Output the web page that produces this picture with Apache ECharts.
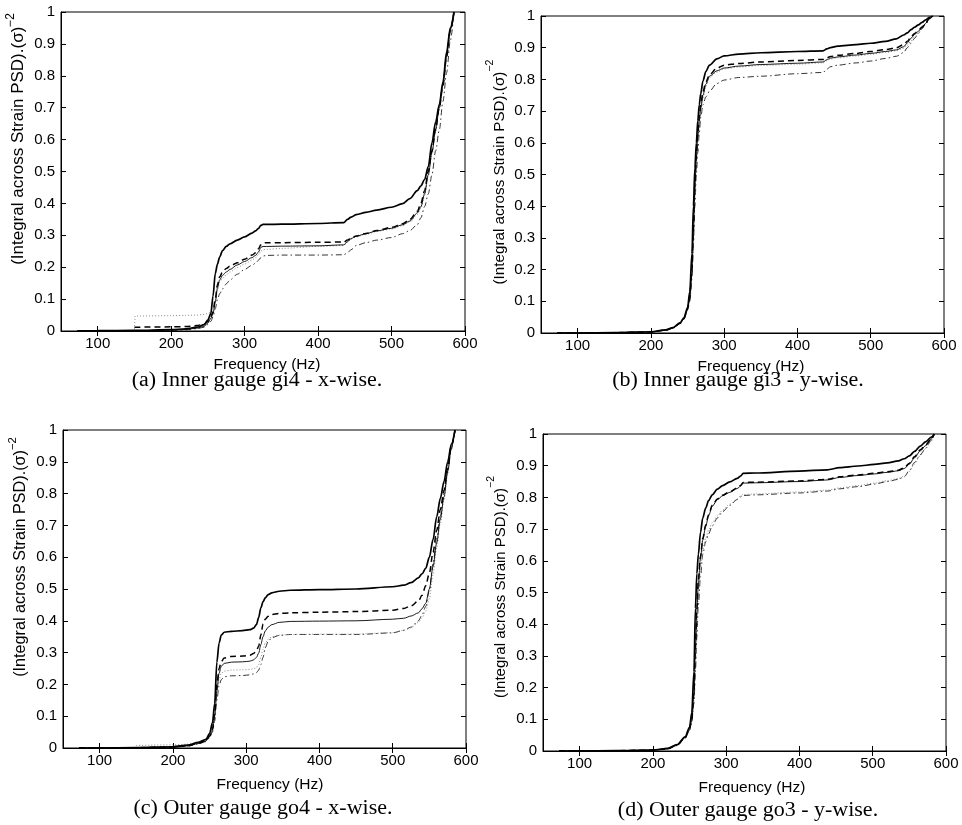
<!DOCTYPE html>
<html>
<head>
<meta charset="utf-8">
<script src="https://cdn.jsdelivr.net/npm/echarts@6/dist/echarts.min.js"></script>
<style>
  html, body { margin: 0; padding: 0; background: #fff; }
  #chart { width: 962px; height: 825px; }
</style>
</head>
<body>
<div id="chart"></div>
<script>
// Normalised cumulative strain PSD, four gauges, five curves each.
const xTicks = [100, 200, 300, 400, 500, 600];

// (a) Inner gauge gi4 - x-wise
const freqA = [72, 100, 150, 151, 200, 220, 235, 245, 250, 254, 257, 260, 263, 266, 270, 275, 280, 290, 300, 310, 315, 319, 322, 325, 330, 350, 400, 435, 440, 445, 452, 465, 480, 500, 515, 525, 535, 540, 545, 550, 555, 560, 565, 570, 575, 580, 585];
const a1 = [0, 0.001, 0.002, 0.002, 0.004, 0.007, 0.012, 0.02, 0.035, 0.055, 0.11, 0.18, 0.21, 0.232, 0.252, 0.265, 0.273, 0.285, 0.295, 0.307, 0.314, 0.322, 0.331, 0.334, 0.334, 0.335, 0.337, 0.34, 0.35, 0.357, 0.365, 0.372, 0.379, 0.388, 0.399, 0.415, 0.44, 0.455, 0.475, 0.515, 0.59, 0.655, 0.71, 0.78, 0.875, 0.95, 1.0];
const a2 = [null, null, 0.012, 0.012, 0.013, 0.014, 0.017, 0.022, 0.03, 0.045, 0.06, 0.1, 0.145, 0.17, 0.185, 0.196, 0.203, 0.214, 0.225, 0.238, 0.245, 0.258, 0.27, 0.276, 0.277, 0.277, 0.278, 0.279, 0.285, 0.292, 0.298, 0.306, 0.315, 0.325, 0.336, 0.35, 0.375, 0.4, 0.44, 0.5, 0.565, 0.635, 0.7, 0.77, 0.86, 0.94, 1.0];
const a3 = [0, 0.0005, 0.001, 0.001, 0.003, 0.005, 0.009, 0.015, 0.025, 0.04, 0.055, 0.09, 0.135, 0.16, 0.175, 0.185, 0.193, 0.207, 0.218, 0.23, 0.237, 0.248, 0.262, 0.265, 0.265, 0.266, 0.267, 0.27, 0.28, 0.29, 0.297, 0.305, 0.314, 0.322, 0.333, 0.345, 0.37, 0.39, 0.43, 0.49, 0.56, 0.63, 0.7, 0.775, 0.865, 0.945, 1.0];
const a4 = [null, null, 0.006, 0.047, 0.048, 0.049, 0.05, 0.052, 0.055, 0.06, 0.07, 0.095, 0.13, 0.152, 0.166, 0.176, 0.185, 0.199, 0.21, 0.222, 0.23, 0.24, 0.25, 0.255, 0.256, 0.259, 0.265, 0.268, 0.278, 0.288, 0.295, 0.303, 0.312, 0.32, 0.33, 0.342, 0.365, 0.385, 0.425, 0.485, 0.555, 0.625, 0.695, 0.77, 0.86, 0.94, 1.0];
const a5 = [0, 0.0005, 0.001, 0.001, 0.002, 0.004, 0.007, 0.012, 0.02, 0.03, 0.045, 0.07, 0.098, 0.117, 0.132, 0.148, 0.16, 0.178, 0.193, 0.206, 0.213, 0.222, 0.23, 0.235, 0.237, 0.238, 0.238, 0.239, 0.245, 0.255, 0.268, 0.277, 0.285, 0.293, 0.305, 0.315, 0.333, 0.355, 0.39, 0.43, 0.49, 0.565, 0.63, 0.72, 0.81, 0.91, 1.0];

// (b) Inner gauge gi3 - y-wise
const freqB = [72, 100, 150, 200, 220, 230, 240, 245, 250, 253, 256, 258, 260, 262, 264, 266, 268, 271, 275, 280, 290, 300, 320, 350, 400, 435, 440, 445, 455, 480, 500, 520, 535, 545, 550, 555, 560, 565, 570, 575, 580, 585];
const b1 = [0, 0, 0.001, 0.004, 0.01, 0.017, 0.033, 0.048, 0.08, 0.13, 0.25, 0.4, 0.52, 0.6, 0.67, 0.72, 0.755, 0.795, 0.825, 0.845, 0.865, 0.874, 0.88, 0.884, 0.888, 0.89, 0.896, 0.9, 0.905, 0.91, 0.914, 0.92, 0.928, 0.94, 0.947, 0.957, 0.965, 0.972, 0.98, 0.988, 0.996, 1.0];
const b2 = [0, 0, 0.001, 0.003, 0.009, 0.016, 0.031, 0.045, 0.075, 0.11, 0.2, 0.33, 0.47, 0.56, 0.63, 0.68, 0.72, 0.76, 0.792, 0.815, 0.835, 0.845, 0.85, 0.855, 0.86, 0.863, 0.868, 0.872, 0.876, 0.882, 0.888, 0.894, 0.9, 0.91, 0.92, 0.935, 0.945, 0.955, 0.965, 0.978, 0.993, 1.0];
const b3 = [0, 0, 0.001, 0.003, 0.009, 0.016, 0.031, 0.045, 0.075, 0.11, 0.19, 0.32, 0.46, 0.55, 0.62, 0.67, 0.71, 0.75, 0.785, 0.81, 0.827, 0.836, 0.842, 0.847, 0.851, 0.855, 0.862, 0.867, 0.871, 0.877, 0.882, 0.888, 0.893, 0.903, 0.915, 0.93, 0.942, 0.952, 0.963, 0.977, 0.992, 1.0];
const b4 = [null, null, 0.001, 0.003, 0.008, 0.015, 0.03, 0.044, 0.073, 0.105, 0.18, 0.3, 0.44, 0.53, 0.6, 0.65, 0.695, 0.74, 0.778, 0.805, 0.823, 0.833, 0.839, 0.844, 0.848, 0.852, 0.859, 0.864, 0.868, 0.874, 0.879, 0.885, 0.89, 0.898, 0.908, 0.922, 0.935, 0.947, 0.96, 0.975, 0.99, 1.0];
const b5 = [0, 0, 0.001, 0.003, 0.008, 0.015, 0.03, 0.044, 0.072, 0.1, 0.17, 0.28, 0.4, 0.5, 0.57, 0.63, 0.68, 0.72, 0.745, 0.763, 0.787, 0.798, 0.806, 0.81, 0.818, 0.822, 0.832, 0.84, 0.845, 0.852, 0.858, 0.866, 0.873, 0.885, 0.9, 0.915, 0.93, 0.945, 0.96, 0.975, 0.99, 1.0];

// (c) Outer gauge go4 - x-wise
const freqC = [72, 100, 150, 200, 220, 235, 245, 250, 254, 257, 260, 263, 266, 270, 280, 295, 305, 310, 314, 317, 320, 323, 326, 330, 335, 345, 360, 400, 450, 500, 515, 525, 535, 540, 545, 550, 555, 560, 565, 570, 575, 580, 585];
const c1 = [0, 0, 0.001, 0.004, 0.009, 0.018, 0.027, 0.045, 0.08, 0.14, 0.27, 0.33, 0.355, 0.364, 0.367, 0.369, 0.372, 0.377, 0.388, 0.41, 0.44, 0.46, 0.472, 0.482, 0.488, 0.493, 0.496, 0.498, 0.5, 0.507, 0.512, 0.52, 0.535, 0.548, 0.565, 0.6, 0.655, 0.727, 0.785, 0.838, 0.9, 0.955, 1.0];
const c2 = [0, 0, 0.001, 0.003, 0.007, 0.015, 0.024, 0.038, 0.06, 0.11, 0.2, 0.25, 0.272, 0.283, 0.288, 0.289, 0.292, 0.297, 0.306, 0.32, 0.355, 0.39, 0.405, 0.414, 0.42, 0.423, 0.425, 0.427, 0.429, 0.433, 0.439, 0.447, 0.462, 0.48, 0.51, 0.55, 0.615, 0.685, 0.75, 0.81, 0.88, 0.95, 1.0];
const c3 = [0, 0, 0.0005, 0.003, 0.007, 0.014, 0.022, 0.035, 0.055, 0.1, 0.18, 0.235, 0.257, 0.266, 0.27, 0.271, 0.273, 0.277, 0.285, 0.298, 0.325, 0.35, 0.368, 0.38, 0.388, 0.395, 0.398, 0.399, 0.4, 0.405, 0.408, 0.415, 0.425, 0.438, 0.455, 0.5, 0.57, 0.645, 0.72, 0.79, 0.87, 0.945, 1.0];
const c4 = [null, null, 0.008, 0.01, 0.012, 0.018, 0.025, 0.038, 0.06, 0.1, 0.17, 0.215, 0.235, 0.242, 0.245, 0.246, 0.247, 0.249, 0.253, 0.262, 0.285, 0.31, 0.33, 0.342, 0.35, 0.355, 0.357, 0.358, 0.358, 0.363, 0.37, 0.378, 0.395, 0.41, 0.43, 0.47, 0.545, 0.63, 0.705, 0.78, 0.86, 0.94, 1.0];
const c5 = [0, 0, 0.0005, 0.002, 0.006, 0.013, 0.02, 0.032, 0.05, 0.085, 0.15, 0.195, 0.215, 0.224, 0.227, 0.228, 0.23, 0.233, 0.237, 0.245, 0.262, 0.285, 0.315, 0.335, 0.347, 0.354, 0.357, 0.357, 0.357, 0.362, 0.37, 0.38, 0.4, 0.418, 0.445, 0.495, 0.58, 0.66, 0.73, 0.8, 0.87, 0.94, 1.0];

// (d) Outer gauge go3 - y-wise
const freqD = [72, 100, 150, 200, 220, 233, 244, 250, 253, 256, 258, 260, 262, 265, 268, 272, 276, 281, 288, 295, 305, 315, 320, 323, 340, 400, 438, 455, 480, 502, 520, 535, 543, 550, 557, 565, 572, 580, 584];
const d1 = [0, 0, 0.001, 0.003, 0.008, 0.02, 0.045, 0.075, 0.12, 0.25, 0.45, 0.56, 0.62, 0.69, 0.735, 0.766, 0.79, 0.808, 0.826, 0.837, 0.849, 0.86, 0.868, 0.876, 0.877, 0.883, 0.887, 0.894, 0.899, 0.904, 0.909, 0.915, 0.922, 0.931, 0.945, 0.962, 0.975, 0.99, 1.0];
const d2 = [0, 0, 0.001, 0.003, 0.007, 0.019, 0.042, 0.07, 0.1, 0.18, 0.33, 0.45, 0.54, 0.615, 0.67, 0.712, 0.745, 0.775, 0.795, 0.807, 0.818, 0.83, 0.838, 0.847, 0.848, 0.852, 0.857, 0.865, 0.871, 0.876, 0.881, 0.886, 0.893, 0.908, 0.928, 0.95, 0.965, 0.985, 1.0];
const d3 = [0, 0, 0.0005, 0.003, 0.007, 0.019, 0.042, 0.07, 0.1, 0.18, 0.32, 0.44, 0.53, 0.61, 0.665, 0.708, 0.742, 0.772, 0.793, 0.805, 0.816, 0.828, 0.836, 0.845, 0.846, 0.85, 0.855, 0.863, 0.869, 0.874, 0.879, 0.884, 0.891, 0.905, 0.925, 0.947, 0.963, 0.984, 1.0];
const d4 = [null, null, 0.001, 0.003, 0.007, 0.018, 0.04, 0.066, 0.095, 0.16, 0.27, 0.38, 0.48, 0.57, 0.635, 0.672, 0.697, 0.72, 0.742, 0.76, 0.779, 0.796, 0.805, 0.809, 0.811, 0.817, 0.823, 0.83, 0.837, 0.845, 0.853, 0.86, 0.867, 0.882, 0.905, 0.932, 0.953, 0.978, 1.0];
const d5 = [0, 0, 0.0005, 0.002, 0.006, 0.017, 0.04, 0.065, 0.09, 0.15, 0.25, 0.36, 0.46, 0.55, 0.62, 0.66, 0.685, 0.71, 0.735, 0.755, 0.775, 0.793, 0.802, 0.806, 0.808, 0.814, 0.82, 0.827, 0.834, 0.842, 0.85, 0.857, 0.865, 0.885, 0.91, 0.935, 0.955, 0.98, 1.0];

const xTitle = 'Frequency (Hz)';
const yTitle = '(Integral across Strain PSD).(σ)';
const ySup = '−2';
const captions = [
  '(a) Inner gauge gi4 - x-wise.',
  '(b) Inner gauge gi3 - y-wise.',
  '(c) Outer gauge go4 - x-wise.',
  '(d) Outer gauge go3 - y-wise.'
];

// Layout of the four panels
const panels = [
  { freq: freqA, curves: [a1, a2, a3, a4, a5], grid: { left: 61, top: 12, width: 404, height: 319 },
    yT: { x: 16, y: 139, size: 17 }, xT: { x: 267, y: 365 }, cap: { x: 257, y: 381 } },
  { freq: freqB, curves: [b1, b2, b3, b4, b5], grid: { left: 541, top: 16, width: 403, height: 317 },
    yT: { x: 496, y: 172, size: 15.2 }, xT: { x: 751, y: 367 }, cap: { x: 738, y: 381 } },
  { freq: freqC, curves: [c1, c2, c3, c4, c5], grid: { left: 63, top: 430, width: 403, height: 318 },
    yT: { x: 18, y: 557, size: 16.2 }, xT: { x: 270, y: 785 }, cap: { x: 263, y: 809 } },
  { freq: freqD, curves: [d1, d2, d3, d4, d5], grid: { left: 543, top: 434, width: 403, height: 317 },
    yT: { x: 497, y: 587, size: 15 }, xT: { x: 752, y: 788 }, cap: { x: 748, y: 811 } }
];

// Line style of each of the five curves
const curveStyles = [
  { color: '#000', width: 1.7, type: 'solid' },
  { color: '#000', width: 1.5, type: [6, 4] },
  { color: '#000', width: 0.9, type: 'solid' },
  { color: '#888', width: 1.0, type: [1, 2] },
  { color: '#000', width: 0.8, type: [6, 3, 1.5, 3] }
];

const sans = "'Liberation Sans', Arial, sans-serif";
const serif = "'Liberation Serif', 'Times New Roman', serif";

const grids = [], xAxes = [], yAxes = [], series = [], graphics = [];

panels.forEach((p, i) => {
  grids.push(Object.assign({ show: true, borderColor: '#000', borderWidth: 1, backgroundColor: '#fff' }, p.grid));
  const tickCommon = { show: true, inside: true, length: 5, lineStyle: { color: '#000', width: 1 } };
  xAxes.push({
    gridIndex: i, type: 'value', min: 50, max: 600, position: 'bottom',
    axisLine: { show: true, onZero: false, lineStyle: { color: '#000', width: 1 } },
    axisTick: Object.assign({ customValues: xTicks }, tickCommon),
    axisLabel: { customValues: xTicks, color: '#000', fontSize: 15, fontFamily: sans, margin: 5 },
    splitLine: { show: false }
  });
  xAxes.push({
    gridIndex: i, type: 'value', min: 50, max: 600, position: 'top',
    axisLine: { show: false },
    axisTick: Object.assign({ customValues: xTicks }, tickCommon),
    axisLabel: { show: false },
    splitLine: { show: false }
  });
  yAxes.push({
    gridIndex: i, type: 'value', min: 0, max: 1, interval: 0.1, position: 'left',
    axisLine: { show: true, onZero: false, lineStyle: { color: '#000', width: 1 } },
    axisTick: tickCommon,
    axisLabel: { color: '#000', fontSize: 15, fontFamily: sans, margin: 6 },
    splitLine: { show: false }
  });
  yAxes.push({
    gridIndex: i, type: 'value', min: 0, max: 1, interval: 0.1, position: 'right',
    axisLine: { show: false },
    axisTick: tickCommon,
    axisLabel: { show: false },
    splitLine: { show: false }
  });

  p.curves.forEach((vals, k) => {
    const st = curveStyles[k];
    const data = [];
    p.freq.forEach((f, j) => { if (vals[j] !== null) data.push([f, vals[j]]); });
    series.push({
      type: 'line', xAxisIndex: 2 * i, yAxisIndex: 2 * i, data: data,
      showSymbol: false, symbol: 'none', smooth: 0.3, smoothMonotone: 'x',
      lineStyle: { color: st.color, width: st.width, type: st.type },
      z: 10 - k, silent: true, animation: false
    });
  });

  graphics.push({
    type: 'text', x: p.yT.x, y: p.yT.y, rotation: Math.PI / 2,
    style: {
      text: '{t|' + yTitle + '}{s|' + ySup + '}',
      align: 'center', verticalAlign: 'middle', fill: '#000',
      rich: {
        t: { fontSize: p.yT.size, fontFamily: sans, lineHeight: 22, verticalAlign: 'bottom', fill: '#000' },
        s: { fontSize: p.yT.size * 0.7, fontFamily: sans, lineHeight: 12, verticalAlign: 'top', fill: '#000' }
      }
    }
  });
  graphics.push({
    type: 'text', x: p.xT.x, y: p.xT.y,
    style: { text: xTitle, fontSize: 15.5, fontFamily: sans, fill: '#000', align: 'center', verticalAlign: 'middle' }
  });
  graphics.push({
    type: 'text', x: p.cap.x, y: p.cap.y, scaleX: 1.1,
    style: { text: captions[i], fontSize: 20, fontFamily: serif, fill: '#000', align: 'center', verticalAlign: 'middle' }
  });
});

const chart = echarts.init(document.getElementById('chart'), null, { renderer: 'canvas' });
chart.setOption({
  backgroundColor: '#fff',
  animation: false,
  grid: grids,
  xAxis: xAxes,
  yAxis: yAxes,
  series: series,
  graphic: graphics
});
</script>
</body>
</html>
